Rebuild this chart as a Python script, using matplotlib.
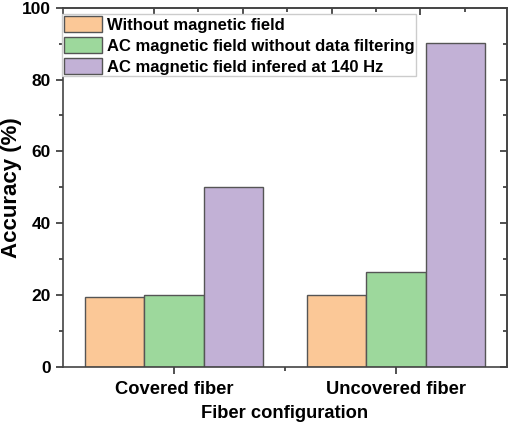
import matplotlib
matplotlib.use('Agg')
import matplotlib.pyplot as plt
import numpy as np
from matplotlib.ticker import MultipleLocator, FixedLocator

# data
configs = ['Covered fiber', 'Uncovered fiber']
series = ['Without magnetic field',
          'AC magnetic field without data filtering',
          'AC magnetic field infered at 140 Hz']
no_field = [19.5, 20.0]
ac_raw = [20.0, 26.5]
ac_140 = [50.0, 90.2]
colors = ['#fbc897', '#9dd89c', '#c2b1d6']

plt.rcParams['font.family'] = ['Liberation Sans', 'DejaVu Sans']
plt.rcParams['font.weight'] = 'bold'

fig = plt.figure(figsize=(5.09, 4.22), dpi=100)
ax = fig.add_axes([0.124, 0.130, 0.872, 0.852])

x = np.arange(1, len(configs) + 1)
w = 0.267
for i, (vals, lab) in enumerate(zip([no_field, ac_raw, ac_140], series)):
    ax.bar(x + (i - 1) * w, vals, w, color=colors[i], edgecolor='#555555',
           linewidth=1.0, label=lab, zorder=2)

ax.set_xlim(0.5, 2.5)
ax.set_ylim(0, 100)
ax.set_xticks(x)
ax.set_xticklabels(configs, fontsize=13.2, fontweight='bold')
ax.xaxis.set_minor_locator(FixedLocator([1.5]))
ax.yaxis.set_major_locator(MultipleLocator(20))
ax.yaxis.set_minor_locator(MultipleLocator(10))
for t in ax.get_yticklabels():
    t.set_fontsize(12.5)
    t.set_fontweight('bold')
ax.tick_params(axis='both', which='major', length=5, width=1.2, color='#333333')
ax.tick_params(axis='x', which='major', pad=5)
ax.tick_params(axis='y', which='major', pad=4)
ax.tick_params(axis='both', which='minor', length=3, width=1.2, color='#333333')

# mirrored ticks on top and right (inward)
top = ax.secondary_xaxis('top')
top.set_xticks([0.91, 1.31, 1.71, 2.11])
top.xaxis.set_minor_locator(FixedLocator([1.11, 1.51, 1.91, 2.31]))
top.tick_params(which='major', direction='in', length=5, width=1.2, labeltop=False, color='#333333')
top.tick_params(which='minor', direction='in', length=3, width=1.2, color='#333333')
right = ax.secondary_yaxis('right')
right.yaxis.set_major_locator(MultipleLocator(20))
right.yaxis.set_minor_locator(MultipleLocator(10))
right.tick_params(which='major', direction='in', length=5, width=1.2, labelright=False, color='#333333')
right.tick_params(which='minor', direction='in', length=3, width=1.2, color='#333333')
for sp in list(ax.spines.values()) + [top.spines['top'], right.spines['right']]:
    sp.set_linewidth(1.2)
    sp.set_color('#444444')

ax.set_xlabel('Fiber configuration', fontsize=13.2, fontweight='bold', labelpad=5)
ax.set_ylabel('Accuracy (%)', fontsize=16, fontweight='bold')
ax.yaxis.set_label_coords(-0.092, 0.5)

leg = ax.legend(loc='upper left', bbox_to_anchor=(-0.002, 0.982), fontsize=12,
                frameon=True, fancybox=False, edgecolor='#cccccc', framealpha=1,
                borderaxespad=0.0, handlelength=2.28, handleheight=1.14,
                handletextpad=0.3, labelspacing=0.25, borderpad=0.1)
leg.get_frame().set_linewidth(1.0)
for t in leg.get_texts():
    t.set_fontweight('bold')

fig.savefig('out.png', dpi=100)
